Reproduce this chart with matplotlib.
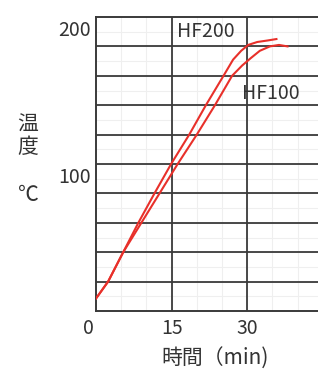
import matplotlib
matplotlib.use("Agg")
import matplotlib.pyplot as plt
from matplotlib.transforms import ScaledTranslation
import numpy as np

plt.rcParams['font.family'] = ['Noto Sans CJK JP', 'DejaVu Sans']

# Data
hf200_t = [0, 2.4, 5.4, 8.4, 11.6, 14.9, 18.5, 21.8, 25.3, 27.2, 28.8, 30.2, 32.0, 34.0, 35.8]
hf200_T = [8.5, 20, 40, 60, 80, 100, 120, 140, 160, 171, 177, 181, 183, 184, 185]
hf100_t = [0, 2.4, 5.4, 9.0, 12.6, 16.2, 20.0, 23.6, 27.0, 29.0, 30.7, 32.5, 34.5, 36.3, 38.0]
hf100_T = [8.5, 20, 40, 60, 80, 100, 120, 140, 160, 167, 172, 177, 180, 181, 180]
series_names = ["HF200", "HF100"]
x_ticks = [0, 15, 30]
x_ticklabels = ["0", "15", "30"]
y_ticks = [100, 200]
y_ticklabels = ["100", "200"]

W, H = 318, 372
fig = plt.figure(figsize=(W / 100, H / 100), dpi=100)
ax = fig.add_axes([96 / W, (H - 311) / H, (W - 96) / W, (311 - 17) / H])
ax.set_xlim(0, (W - 96) / 5.04)
ax.set_ylim(0, 200)

dark = '#3a3a3a'
# minor faint grid
for x in np.arange(5, 45, 5):
    ax.axvline(x, color='#efefef', lw=0.8, zorder=0)
for y in np.arange(10, 200, 10):
    ax.axhline(y, color='#efefef', lw=0.8, zorder=0)
# major grid
for y in range(20, 200, 20):
    ax.axhline(y, color=dark, lw=1.3, zorder=1)
for x in [15, 30]:
    ax.axvline(x, color=dark, lw=1.3, zorder=1)

for s in ['left', 'bottom', 'top']:
    ax.spines[s].set_color(dark)
    ax.spines[s].set_linewidth(1.4)
ax.spines['right'].set_visible(False)

red = '#e8302a'
ax.plot(hf200_t, hf200_T, color=red, lw=1.5, zorder=3)
ax.plot(hf100_t, hf100_T, color=red, lw=1.5, zorder=3)

ax.set_xticks(x_ticks)
ax.set_xticklabels(x_ticklabels)
ax.set_yticks(y_ticks)
ax.set_yticklabels(y_ticklabels)
ax.tick_params(length=0, labelsize=14, colors='#333333', pad=4)
ax.tick_params(axis='x', pad=5)
for lab in ax.get_yticklabels():
    lab.set_transform(lab.get_transform() + ScaledTranslation(0, -0.11, fig.dpi_scale_trans))
xl = ax.get_xticklabels()
xl[0].set_transform(xl[0].get_transform() + ScaledTranslation(-0.08, 0, fig.dpi_scale_trans))

ax.text(16.1, 197, series_names[0], fontsize=14, color='#333333', va='top', ha='left', zorder=4)
ax.text(28.9, 155, series_names[1], fontsize=14, color='#333333', va='top', ha='left', zorder=4)

fig.text(28 / W, 1 - 136 / H, "温\n度", fontsize=15, color='#333333', ha='center', va='center', linespacing=1.05)
fig.text(28 / W, 1 - 195 / H, "℃", fontsize=15, color='#333333', ha='center', va='center')
fig.text(215 / W, 1 - 359 / H, "時間（min)", fontsize=15, color='#333333', ha='center', va='center')

fig.savefig("out.png", dpi=100, facecolor='white')
